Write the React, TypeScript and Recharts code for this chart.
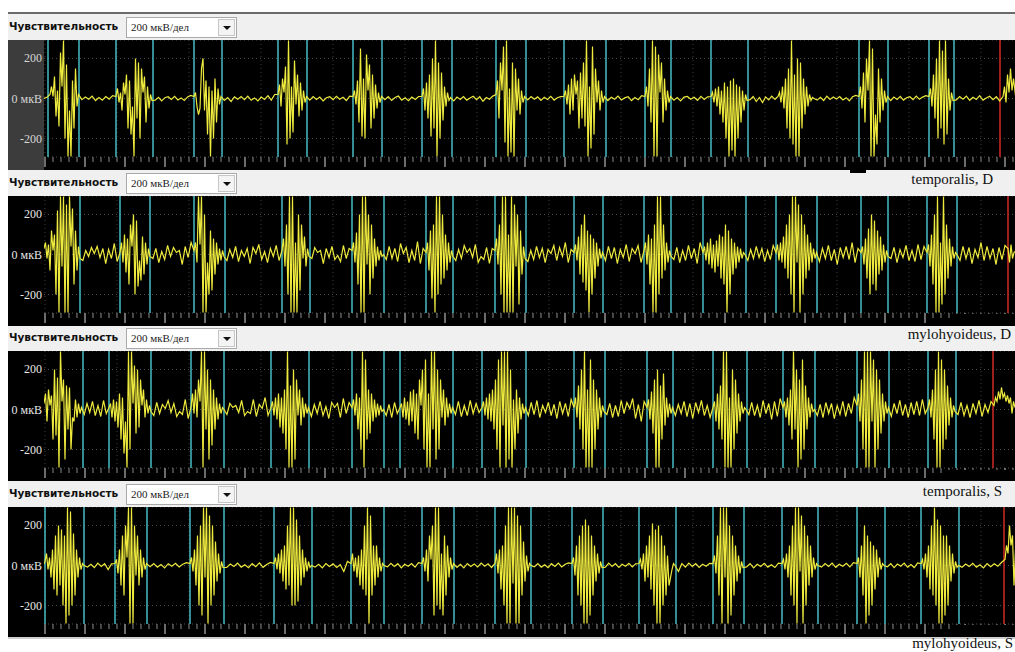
import { LineChart, Line, XAxis, YAxis, CartesianGrid, ReferenceLine } from "recharts"

const muscles = ["temporalis, D", "mylohyoideus, D", "temporalis, S", "mylohyoideus, S"]
const sensLabel = "Чувствительность"
const sensValue = "200 мкВ/дел"
const yTicks = [200, 0, -200]
const span = 971
const burstStep = 1.5

// temporalis, D
const tempDOnsets = [6, 72, 150, 234, 309, 378, 452, 520, 601, 667, 734, 815, 885, 959]
const tempDBursts = [
  [20, 60, 10, 110, -90, 40, -140, 230, 60, 290, -200, 170, -290, -60, -290, 90, -150, 150, -40, 20],
  [10, 50, -20, 30, -60, 80, 20, 120, -150, 90, -180, -40, -290, 200, -100, 180, -200, 150, 30, 110, -120, 60, -50, 20, -10],
  [10, 30, -40, -80, -50, 150, 200, -60, 90, -180, 60, -290, 40, -200, 100, -120, 50, -30, 10],
  [20, 70, -40, 100, 30, 160, -230, 290, -200, 60, -170, 190, -30, 120, -90, 80, -60, 40, -20, 10],
  [10, 40, -30, 90, -120, 250, -190, 100, -200, 220, 40, 170, -150, 120, -100, 70, -50, 30, -20, 10],
  [10, 50, -60, 80, -100, 120, -190, 200, -150, 290, -290, 180, -200, 130, -110, 60, -40, 30, -10, 5],
  [20, 90, -100, 180, 40, 260, -220, 290, -290, 50, -270, 180, -290, 150, -60, 100, -80, 40, -20, 10],
  [10, 40, -30, 70, -80, 100, -60, 120, 20, 90, -150, 130, -100, 180, -140, 290, -290, 60, -250, 260, -180, 150, -20, 90, -60, 40, -20, 10],
  [10, 60, -40, 150, -120, 290, -290, 260, -290, 220, 30, 180, -120, 100, -60, 40, -20, 10],
  [10, 30, -20, 50, -40, 60, -80, 40, -120, 80, -200, 60, -290, 90, -260, 100, -290, 70, -200, 60, -120, 40, -60, 20, -10],
  [10, 30, -20, 60, -50, 100, -150, 150, -200, 290, -230, 120, -290, 200, -290, 180, -150, 100, -80, 60, -40, 20, -10, 5, 0],
  [10, 60, -50, 130, -120, 200, 40, 290, -290, 250, -290, -80, -230, 150, -120, 100, -60, 40, -20, 10],
  [10, 50, -40, 120, -100, 200, -200, 290, -150, 240, -230, 290, -180, 100, -60, 30, -10],
  [10, 60, -20, 120, 30, 150, 40, 100],
]
const tempDRest = [
  [0, 6],
  [-6, 8, -4, 12, -10, 5, -8, 10, -3, 14],
  [-8, 6, -12, 4, 9, -5, 11, -7, 3, -10, 8, 15],
  [-10, 5, -15, 8, -4, 10, -6, 12, -9, 3, -12, 7, -5, 14, -8, 20],
  [-8, 10, -5, 7, -12, 4, 9, -6, 11, -4, 6, -10, 12],
  [-6, 9, -10, 5, 12, -8, 4, -11, 7, -5, 10],
  [-12, 7, -5, 10, -8, 3, 11, -6, 9, -14, 5, -4, 12],
  [-7, 10, -4, 8, -10, 6, -5, 11, -8, 4, 9],
  [-10, 6, -4, 12, -7, 3, 9, -11, 5, -6, 14],
  [-8, 5, -12, 7, 10, -4, 6, -9, 11, -5, 8],
  [-6, 10, -15, 5, -20, 8, -7, 12, -4],
  [-8, 6, -10, 12, -5, 8, -3, 10, -7, 4, -12, 9, 15],
  [-10, 7, -5, 11, -8, 4, 9, -6, 12, -4, 7, 14],
  [-7, 10, -4, 12, -9, 6, -5, 14, -8, 3, 11, -6, 9, -12],
  [5],
]
const tempDMarks = [4, 35, 72, 109, 150, 178, 234, 263, 309, 338, 378, 408, 452, 482, 520, 562, 601, 627, 667, 704, 815, 844, 885, 910]
const tempDRed = 956

// mylohyoideus, D
const myloDOnsets = [0, 76, 150, 238, 308, 382, 451, 530, 600, 659, 732, 817, 883, 964]
const myloDBursts = [
  [30, 60, -20, 50, -80, 120, 20, 100, -200, 220, -290, 290, -60, 290, -290, 250, -290, 290, 40, 230, -150, 120, -80, 40, -20],
  [10, 60, -40, 100, -90, 80, -150, 150, 40, 200, -200, 170, -160, -30, -130, 90, -100, 60, -50, 30, -10],
  [20, 60, -40, 290, 50, 290, -290, 200, -290, -40, -200, 120, -180, 80, -100, 60, -50, 30, -30, 20, -10],
  [20, 80, -60, 150, -200, 290, -290, 290, -290, 60, -290, 200, -180, 150, -20, 90, -60, 30, -10],
  [20, 60, -40, 110, -150, 200, -290, 290, -290, 290, -50, 200, -200, 150, -120, 80, -60, 40, -30, 20, -10, 0],
  [10, 60, -80, 120, -220, 150, -290, 290, -200, 290, -150, 200, -120, 100, -80, 60, -40, 20, -10],
  [20, 80, -50, 150, -200, 290, -290, 290, -290, 100, -290, 290, -290, 250, -60, 200, -250, 120, -100, 40, -20],
  [10, 50, -30, 90, -100, 150, -140, 200, -180, 120, -290, 100, -200, 80, -120, 60, -60, 30, -20, 10],
  [20, 60, -50, 100, -150, 80, -290, 150, -290, 290, -200, 290, -120, 150, -80, 60, -40, 20, -10],
  [10, 40, -30, 60, -50, 80, -70, 50, -90, 70, -60, 100, -120, 90, -150, 150, -290, 120, -200, 80, -100, 60, -70, 40, -40, 30, -20, 10, 0],
  [10, 50, -30, 60, -40, 90, -70, 150, -120, 200, -200, 290, -290, 290, -40, 250, -290, 200, -200, 150, -120, 100, -80, 60, -40, 30, -20, 10],
  [10, 40, -50, 80, -120, 130, -200, 200, -150, 170, -180, 120, -100, 90, -80, 50, -40, 20, -10],
  [10, 50, -60, 100, -150, 200, -290, 290, -290, 60, -250, 290, -200, 150, -120, 80, -60, 40, -20, 10, 0],
  [30, -40, 50, -20, 10],
]
const myloDRest = [
  [],
  [-30, 20, -10, 35, 5, 40, -15, 30, -45, 25, -20, 55, -35],
  [-20, 30, -40, 15, -25, 45, -10, 35, 10, 20, -50, 40, -15, 60],
  [-30, 25, -15, 40, -35, 20, -10, 30, -45, 35, 5, 50, -25, 15, -40, 30, -10, 45, -30],
  [-20, 35, 10, 20, -45, 30, -15, 40, -25, -5, -35, 45, -20, 30],
  [-25, 40, -20, 30, -35, 55, 5, 35, -40, 20, -30, 65, -45, 30],
  [-30, 25, -20, 45, 10, 30, -15, 50, -40, -10, -25, 35, -45, 30],
  [-35, 20, -25, 40, -15, 30, -40, 25, 5, 45, -30, 35, -10, 60, -40, 25],
  [-30, 40, -20, 35, -45, 25, -15, 50, -35, 30, 5, 45, -40],
  [-25, 35, -40, 20, -30, 45, -20, 30, -45, 60],
  [-30, 25, -20, 40, -15, 30, -35, 20, -25, 45],
  [-35, 30, -20, 45, -30, 25, -50, 35, -15, 40, -25, 60, -40, 30],
  [-20, 35, -40, 25, -15, 45, -30, 20, -35, 50, -25, 40],
  [-30, 40, -20, 35, -45, 25, -15, 60, -30, 40, -20, 30, -50, 35, -25, 45],
  [20],
]
const myloDMarks = [36, 76, 106, 150, 181, 238, 266, 308, 340, 382, 409, 451, 482, 530, 559, 600, 627, 659, 702, 732, 773, 817, 844, 883, 913]
const myloDRed = 964

// temporalis, S
const tempSOnsets = [0, 65, 147, 227, 308, 356, 438, 530, 603, 669, 739, 813, 884, 950]
const tempSBursts = [
  [30, 80, -60, 100, 20, 70, -150, 200, -130, 160, -290, 290, 40, 150, -250, 120, -100, 110, -200, -40, -60, 50, -40, 30, -20, 10],
  [10, 30, -40, 50, -60, 40, -90, 80, -150, 60, -220, -60, -290, 290, -200, 290, 30, 220, -120, 200, -90, 150, 20, 100, -40, 50, -20, 20, -10],
  [10, 80, -20, 100, -40, 150, 40, 290, -290, 290, -100, 200, -250, 150, -180, 100, -100, 60, -50, 30, -20, 10, 0],
  [10, 40, -30, 60, -50, 80, -90, 60, -120, 100, -200, 290, -290, 120, -290, 200, -250, 150, -30, 100, -80, 60, -40, 30, -20, 10],
  [10, 50, -30, 80, -100, 60, -200, 290, -290, 250, -150, 100, -120, 80, -60, 50, -40, 30, -30, 20, -10, 0],
  [10, 30, -40, 60, -50, 40, -80, 90, -60, 100, -120, 80, -150, 150, 20, 200, -200, 250, -290, 80, -290, 290, -100, 290, -250, 200, -200, 150, -40, 100, -80, 60, -40, 30, -20, 10],
  [10, 40, -30, 60, -50, 80, -60, 100, -100, 150, -200, 250, -290, 290, -80, 290, -290, 290, -250, 200, -290, 50, -200, 100, -120, 60, -50, 30, -20, 10],
  [10, 60, -40, 120, -100, 200, -200, 290, -290, 100, -290, 250, -290, 150, -200, 100, -100, 60, -40, 20, -10],
  [10, 50, -50, 90, -120, 150, -290, 200, -290, 120, -150, 180, -80, 60, -40, 30, -20, 10],
  [10, 40, -60, 80, -100, 120, -150, 290, -290, 290, -290, 60, -290, 200, -200, 150, -120, 80, -60, 40, -20, 10, 0],
  [10, 40, -40, 60, -80, 100, -150, 290, -100, 200, -290, 150, -250, 250, -200, 120, -100, 60, -40, 30, -10, 0],
  [20, 80, -60, 150, -200, 290, -290, 290, -290, 290, -60, 250, -290, 200, -200, 150, -120, 80, -60, 40, -20, 10],
  [10, 50, -40, 100, -150, 200, -290, 290, -290, 250, -200, 200, -150, 120, -80, 60, -40, 20, -10],
  [20, 60, 40, 90, 50, 110, 60, 80, 40, 70, 30, 60, -20, 40, 10],
]
const tempSRest = [
  [],
  [-25, 30, -15, 40, -30, 20, -35, 45, -20],
  [-30, 35, -20, 25, 5, 45, -15, 30, -35, -10, -25, 50, -45],
  [-25, 30, 10, 20, -15, 45, -30, -10, -20, 50, -35, 25, 5, 60, -30],
  [-35, 25, -20, 40, -30, 15, -45, 35, 10, 30, -40, 55, -20, 35],
  [-30, 25, -40, 35, -20],
  [-25, 40, -35, 20, -30, 45, -20, 30, -15],
  [-30, 35, -25, 45, -40, 20, -15, 35, -30, 25, -45, 40, -20, 30, -35, 50],
  [-25, 30, -40, 20, -35, 45, -20, 35, 5, 55, -45, 25, -60, 40],
  [-30, 25, -20, 40, -35, 30, -45, 35, -15, 45, -30, 20, -40],
  [-25, 35, -30, 20, -40, 45, -20, 30, -50, 40, -35, 55],
  [-30, 25, -40, 35, -20, 30, -45, 20, -25, 40, -35, 30, -20, 60],
  [-35, 30, -20, 45, -30, 25, -40, 35, -25, 40, -30, 50, -20],
  [-25, 35, -30, 20, -40, 30, -20, 45, -35, 25, -15, 40],
  [],
]
const tempSMarks = [39, 65, 107, 147, 180, 227, 265, 308, 340, 356, 409, 438, 482, 530, 561, 603, 629, 669, 703, 739, 771, 813, 845, 884, 912]
const tempSRed = 949

// mylohyoideus, S
const myloSOnsets = [1, 71, 146, 230, 307, 378, 451, 528, 595, 669, 738, 813, 877, 961]
const myloSBursts = [
  [20, 60, -20, 40, -60, 80, -120, 150, -150, 200, -100, 180, -200, 150, -290, 290, -250, 270, -200, 160, -150, 80, -60, 40, -20, 10, 0],
  [10, 30, -40, 80, -100, 150, -150, 200, 40, 290, -290, 290, -290, 200, -50, 150, -100, 80, -60, 40, -20, 10],
  [10, 40, -30, 80, -100, 150, -200, 200, -250, 290, -60, 290, -290, 250, -200, 200, -150, 120, -80, 60, -40, 20, -10],
  [10, 40, -20, 60, -40, 80, -80, 100, -120, 200, -100, 290, -200, 290, -200, 230, -180, 150, -100, 80, -60, 40, -30, 20, -10, 0],
  [10, 60, -30, 40, -60, 50, -100, 80, -120, 200, -150, 290, -290, 250, -150, 100, -100, 100, -60, 40, -30, 10, 0],
  [10, 40, -30, 80, -80, 150, 30, 200, -250, 290, -200, 290, -220, 60, -250, 150, -150, 100, -60, 40, -20, 10],
  [10, 60, -40, 80, -120, 100, -200, 200, -290, 290, -290, 290, -90, 290, -290, 250, -290, 200, -150, 120, -80, 50, -30, 10, 0],
  [10, 40, -50, 100, -150, 150, -200, 200, -290, 230, -290, 200, -250, 150, -150, 100, -80, 60, -40, 20, -10],
  [10, 30, -20, 60, -80, 100, -60, 150, -120, 210, -200, 180, -290, 200, -290, 150, -200, 100, -150, 50, -100, -60, -20, 10, 0],
  [10, 50, -40, 150, -150, 290, -290, 290, -60, 290, -290, 200, -250, 150, -150, 100, -80, 50, -40, 20, -10],
  [10, 30, -20, 60, -60, 100, -150, 200, -200, 290, -290, 290, -30, 250, -290, 200, -200, 150, -100, 100, -60, 40, -20, 10, 0],
  [10, 40, -60, 100, -150, 200, -290, 150, -250, 120, -200, 100, -120, 80, -60, 40, -20, 10, 0],
  [10, 30, -20, 60, -60, 100, -120, 200, -150, 290, -200, 230, -290, 200, -290, 150, -250, 150, -200, 100, -80, 60, -40, 20, -10, 0],
  [30, 100, 60, 200, 100, 150, -100, 80],
]
const myloSRest = [
  [0],
  [-8, 6, -10, 12, -5, 9, -20, 8],
  [-6, 10, -8, 5, -12, 9, -4, 11, -7, 6, 14],
  [-10, 7, -5, 12, -8, 4, -11, 9, -6, 13, -9, 5, 15],
  [-8, 6, -12, 10, -5, 8, -10, 4, -30, 20],
  [-7, 11, -5, 9, -12, 6, -4, 10, -8, 14],
  [-9, 6, -12, 10, -5, 8, -7, 12, -4, 9, -10],
  [-6, 10, -8, 4, -11, 9, -5, 12, -7, 6, 13],
  [-8, 12, -5, 9, -10, 6, -4, 11, -7, 8],
  [-30, 10, -8, 12, -5, 9, -10, 6, -4, 11],
  [-7, 9, -12, 6, -5, 11, -8, 4, -10, 12],
  [-8, 10, -5, 12, -9, 6, -4, 11, -7, 14],
  [-6, 9, -11, 7, -4, 12, -8, 5, -10, 13],
  [-9, 7, -5, 11, -8, 4, -12, 10, -6, 9, -4, 15],
  [],
]
const myloSMarks = [1, 40, 71, 103, 146, 180, 230, 268, 307, 340, 378, 410, 451, 487, 528, 559, 595, 632, 669, 700, 738, 774, 813, 841, 877, 915]
const myloSRed = 960

type Pt = { t: number; v: number }

function buildTrace(onsets: number[], bursts: number[][], rest: number[][]): Pt[] {
  const pts: Pt[] = []
  let cursor = -3
  for (let i = 0; i <= bursts.length; i++) {
    const end = i < bursts.length ? onsets[i] : span + 3
    const seg = rest[i] || []
    seg.forEach((v, j) => pts.push({ t: cursor + ((end - cursor) * (j + 1)) / (seg.length + 1), v }))
    if (i < bursts.length) {
      bursts[i].forEach((v, j) => pts.push({ t: onsets[i] + j * burstStep, v }))
      cursor = onsets[i] + (bursts[i].length - 1) * burstStep
    }
  }
  return pts
}

// strip ticks every 8 samples, a long one every 40
const stripTicks = Array.from({ length: 122 }, (_, k) => 1 + k * 8)
const gridTimes = Array.from({ length: 14 }, (_, k) => 1 + k * 72)

function StripTick(props: any) {
  const { x, y, payload } = props
  const major = (payload.value - 1) % 40 === 0
  return (
    <line
      x1={x}
      x2={x}
      y1={y}
      y2={y + (major ? 10 : 5)}
      stroke={major ? "#6c6c6c" : "#8a8a8a"}
      strokeWidth={major ? 2 : 1}
    />
  )
}

function makeAxisTick(fill: string) {
  return function AxisTick(props: any) {
    const { x, y, payload } = props
    return (
      <text
        x={x}
        y={y}
        dy={4}
        textAnchor="end"
        fill={fill}
        fontSize={12}
        fontFamily="'Liberation Serif', serif"
      >
        {payload.value === 0 ? "0 мкВ" : String(payload.value)}
      </text>
    )
  }
}

const panels = [
  { top: 14, trace: buildTrace(tempDOnsets, tempDBursts, tempDRest), marks: tempDMarks, red: tempDRed, axisBg: "#3c3c3c" },
  { top: 170, trace: buildTrace(myloDOnsets, myloDBursts, myloDRest), marks: myloDMarks, red: myloDRed, axisBg: "#000" },
  { top: 325, trace: buildTrace(tempSOnsets, tempSBursts, tempSRest), marks: tempSMarks, red: tempSRed, axisBg: "#000" },
  { top: 481, trace: buildTrace(myloSOnsets, myloSBursts, myloSRest), marks: myloSMarks, red: myloSRed, axisBg: "#000" },
]

const labelPos = [
  { top: 172, right: 22 },
  { top: 327, right: 4 },
  { top: 484, right: 13 },
  { top: 636, right: 2 },
]

function Header({ top }: { top: number }) {
  return (
    <div style={{ position: "absolute", left: 8, top, width: 1007, height: 26, background: "#f0f0f0" }}>
      <span
        style={{
          position: "absolute",
          left: 1,
          top: 6,
          fontFamily: "'DejaVu Sans', sans-serif",
          fontWeight: "bold",
          fontSize: 10.5,
          color: "#111",
          whiteSpace: "nowrap",
        }}
      >
        {sensLabel}
      </span>
      <div
        style={{
          position: "absolute",
          left: 118,
          top: 3,
          width: 111,
          height: 21,
          background: "#fff",
          border: "1px solid #a9a9a9",
          boxSizing: "border-box",
        }}
      >
        <span
          style={{
            position: "absolute",
            left: 4,
            top: 3,
            fontFamily: "'Liberation Serif', serif",
            fontSize: 11,
            color: "#222",
            whiteSpace: "nowrap",
          }}
        >
          {sensValue}
        </span>
        <div
          style={{
            position: "absolute",
            right: 1,
            top: 1,
            width: 17,
            height: 17,
            background: "#f4f4f4",
            border: "1px solid #c6c6c6",
            boxSizing: "border-box",
          }}
        >
          <div
            style={{
              position: "absolute",
              left: 4,
              top: 6,
              width: 0,
              height: 0,
              borderLeft: "4px solid transparent",
              borderRight: "4px solid transparent",
              borderTop: "4px solid #111",
            }}
          />
        </div>
      </div>
    </div>
  )
}

function Trace({ top, trace, marks, red, axisBg }: any) {
  const txt = axisBg === "#000" ? "#e6e6e6" : "#d6d6d6"
  return (
    <div style={{ position: "absolute", left: 8, top: top + 26, width: 1007, height: 130, background: "#000" }}>
      <div style={{ position: "absolute", left: 0, top: 0, width: 36, height: 130, background: axisBg }} />
      <div style={{ position: "absolute", left: 0, top: 0 }}>
        <LineChart width={1007} height={130} data={trace} margin={{ top: 0, right: 0, bottom: 0, left: 0 }}>
          <CartesianGrid vertical={false} stroke="#505050" strokeDasharray="1 3" />
          <XAxis
            dataKey="t"
            type="number"
            domain={[0, span]}
            allowDataOverflow
            ticks={stripTicks}
            interval={0}
            height={13}
            tickSize={0}
            tickMargin={0}
            axisLine={false}
            tickLine={false}
            tick={StripTick}
          />
          <YAxis
            type="number"
            domain={[-292, 292]}
            allowDataOverflow
            ticks={yTicks}
            width={36}
            axisLine={false}
            tickLine={false}
            tickSize={0}
            tickMargin={2}
            tick={makeAxisTick(txt)}
          />
          {gridTimes.map((g) => (
            <ReferenceLine key={"g" + g} x={g} stroke="#3c3c3c" strokeDasharray="1 3" />
          ))}
          {marks.map((m: number) => (
            <ReferenceLine key={"m" + m} x={m} stroke="#44bcc4" strokeWidth={1.5} />
          ))}
          <ReferenceLine x={red} stroke="#d22a22" strokeWidth={1.5} />
          <Line
            type="linear"
            dataKey="v"
            stroke="#eeea3e"
            strokeWidth={1.2}
            dot={false}
            isAnimationActive={false}
          />
        </LineChart>
      </div>
    </div>
  )
}

export default function App() {
  return (
    <div style={{ position: "absolute", left: 0, top: 0, width: 1015, height: 652, background: "#fff", overflow: "hidden" }}>
      <div style={{ position: "absolute", left: 8, top: 12, width: 1007, height: 2, background: "#6a6a6a" }} />
      {panels.map((p, i) => (
        <Header key={"h" + i} top={p.top} />
      ))}
      {panels.map((p, i) => (
        <Trace key={"t" + i} {...p} />
      ))}
      <div style={{ position: "absolute", left: 850, top: 170, width: 16, height: 3, background: "#000" }} />
      <div style={{ position: "absolute", left: 953, top: 314, width: 62, height: 12, background: "#000" }} />
      <div style={{ position: "absolute", left: 948, top: 470, width: 67, height: 11, background: "#000" }} />
      <div style={{ position: "absolute", left: 952, top: 625, width: 63, height: 12, background: "#000" }} />
      <div style={{ position: "absolute", left: 8, top: 637, width: 1007, height: 2, background: "#cfcfcf" }} />
      {muscles.map((m, i) => (
        <div
          key={m}
          style={{
            position: "absolute",
            top: labelPos[i].top,
            right: labelPos[i].right,
            fontFamily: "'Liberation Serif', serif",
            fontSize: 15,
            lineHeight: "15px",
            color: "#111",
            whiteSpace: "nowrap",
          }}
        >
          {m}
        </div>
      ))}
    </div>
  )
}
